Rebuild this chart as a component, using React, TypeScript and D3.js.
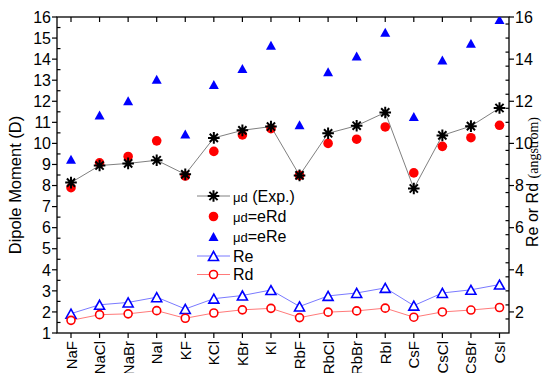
import React from "react";
import * as d3 from "d3";

const categories = ["NaF", "NaCl", "NaBr", "NaI", "KF", "KCl", "KBr", "KI", "RbF", "RbCl", "RbBr", "RbI", "CsF", "CsCl", "CsBr", "CsI"];
const muExp = [8.14, 8.95, 9.05, 9.2, 8.53, 10.26, 10.62, 10.8, 8.48, 10.48, 10.84, 11.47, 7.86, 10.38, 10.82, 11.68];
const muERd = [7.9, 9.08, 9.38, 10.12, 8.45, 9.62, 10.4, 10.7, 8.48, 10.0, 10.2, 10.78, 8.6, 9.86, 10.27, 10.86];
const muERe = [9.25, 11.35, 12.02, 13.05, 10.45, 12.8, 13.55, 14.66, 10.88, 13.4, 14.15, 15.28, 11.28, 13.96, 14.75, 15.88];
const ReVals = [1.92, 2.34, 2.45, 2.7, 2.14, 2.63, 2.78, 3.04, 2.26, 2.76, 2.9, 3.14, 2.3, 2.9, 3.05, 3.3];
const RdVals = [1.6, 1.87, 1.91, 2.06, 1.7, 1.95, 2.1, 2.17, 1.73, 1.99, 2.05, 2.18, 1.75, 2.0, 2.09, 2.21];

const leftMajor = d3.range(1, 17, 1);
const leftMinor = d3.range(1.5, 16, 1);
const rightMajor = d3.range(2, 17, 2);

const W = 544, H = 373;
const L = 57, R = 509, T = 17, B = 333;
const FONT = "Arial, 'Liberation Sans', sans-serif";

function starPath(cx: number, cy: number, r: number) {
  const d = r * Math.SQRT1_2;
  return `M${cx - r},${cy}L${cx + r},${cy}M${cx},${cy - r}L${cx},${cy + r}M${cx - d},${cy - d}L${cx + d},${cy + d}M${cx - d},${cy + d}L${cx + d},${cy - d}`;
}
function triPath(cx: number, cy: number, s: number) {
  const h = s * 0.9;
  return `M${cx},${cy - h / 2}L${cx + s / 2},${cy + h / 2}L${cx - s / 2},${cy + h / 2}Z`;
}

export default function App() {
  const x = d3.scalePoint<string>().domain(categories).range([71, 499.5]);
  const y = d3.scaleLinear().domain([1, 16]).range([B, T]);
  const yR = d3.scaleLinear().domain([1, 16]).range([B, T]);
  const rightMinor = d3.range(1, 16.01, 2 / 3).filter((v) => Math.abs(Math.round(v / 2) * 2 - v) > 0.01 && v > 1.01);

  const line = (vals: number[], sc: d3.ScaleLinear<number, number>) =>
    d3.line<number>().x((_, i) => x(categories[i])!).y((v) => sc(v))(vals) || "";

  const legendY = [196, 216.5, 236.5, 256, 274.5];
  const lx0 = 197, lx1 = 230, lmx = 213.5, ltx = 233;

  return (
    <svg width={W} height={H} style={{ position: "absolute", left: 0, top: 0 }} fontFamily={FONT}>
      <defs>
        <clipPath id="plot">
          <rect x={L} y={T} width={R - L} height={B - T} />
        </clipPath>
      </defs>
      <rect x={0} y={0} width={W} height={H} fill="#fff" />

      {/* frame */}
      <rect x={L} y={T} width={R - L} height={B - T} fill="none" stroke="#000" strokeWidth={1.3} />

      {/* left axis ticks */}
      {leftMajor.map((v) => (
        <g key={"lm" + v}>
          <line x1={L - 5} x2={L} y1={y(v)} y2={y(v)} stroke="#000" strokeWidth={1.2} />
          <text x={L - 6} y={y(v)} dy="0.36em" textAnchor="end" fontSize={16}>{v}</text>
        </g>
      ))}
      {leftMinor.map((v) => (
        <line key={"ln" + v} x1={L} x2={L + 3.5} y1={y(v)} y2={y(v)} stroke="#000" strokeWidth={1.2} />
      ))}

      {/* right axis ticks */}
      {rightMajor.map((v) => (
        <g key={"rm" + v}>
          <line x1={R} x2={R + 5} y1={yR(v)} y2={yR(v)} stroke="#000" strokeWidth={1.2} />
          <text x={R + 6} y={yR(v)} dy="0.36em" textAnchor="start" fontSize={16}>{v}</text>
        </g>
      ))}
      {rightMinor.map((v, i) => (
        <line key={"rn" + i} x1={R - 3.5} x2={R} y1={yR(v)} y2={yR(v)} stroke="#000" strokeWidth={1.2} />
      ))}

      {/* x ticks */}
      {categories.map((c) => (
        <g key={"x" + c}>
          <line x1={x(c)} x2={x(c)} y1={B} y2={B + 5} stroke="#000" strokeWidth={1.2} />
          <line x1={x(c)} x2={x(c)} y1={T} y2={T + 5} stroke="#000" strokeWidth={1.2} />
          <text
            transform={`translate(${x(c)! + 5.5},${B + 8}) rotate(-90)`}
            textAnchor="end"
            fontSize={15}
          >
            {c}
          </text>
        </g>
      ))}

      {/* axis titles */}
      <text transform={`translate(21,185) rotate(-90)`} textAnchor="middle" fontSize={16.5}>
        Dipole Moment (D)
      </text>
      <text transform={`translate(538,182) rotate(-90)`} textAnchor="middle" fontSize={16}>
        Re or Rd <tspan fontFamily="'Liberation Serif', 'Times New Roman', serif" fontSize={14}>(angstrom)</tspan>
      </text>

      <g clipPath="url(#plot)">
        {/* Re / Rd lines */}
        <path d={line(ReVals, yR)} fill="none" stroke="#7a7aff" strokeWidth={1} />
        <path d={line(RdVals, yR)} fill="none" stroke="#ff7a7a" strokeWidth={1} />
        {ReVals.map((v, i) => (
          <path key={"re" + i} d={triPath(x(categories[i])!, yR(v), 10)} fill="#fff" stroke="#0000ff" strokeWidth={1.6} />
        ))}
        {RdVals.map((v, i) => (
          <circle key={"rd" + i} cx={x(categories[i])!} cy={yR(v)} r={4} fill="#fff" stroke="#ff0000" strokeWidth={1.6} />
        ))}

        {/* eRe */}
        {muERe.map((v, i) => (
          <path key={"ere" + i} d={triPath(x(categories[i])!, y(v), 10)} fill="#0000ff" />
        ))}
        {/* exp line */}
        <path d={line(muExp, y)} fill="none" stroke="#808080" strokeWidth={1} />
        {/* eRd */}
        {muERd.map((v, i) => (
          <circle key={"erd" + i} cx={x(categories[i])!} cy={y(v)} r={4.8} fill="#ff0000" />
        ))}
        {/* exp stars */}
        {muExp.map((v, i) => (
          <path key={"exp" + i} d={starPath(x(categories[i])!, y(v), 5.8)} stroke="#000" strokeWidth={2} fill="none" />
        ))}
      </g>

      {/* legend */}
      <g>
        <line x1={lx0} x2={lx1} y1={legendY[0]} y2={legendY[0]} stroke="#808080" strokeWidth={1} />
        <path d={starPath(lmx, legendY[0], 5.8)} stroke="#000" strokeWidth={2} fill="none" />
        <text x={ltx} y={legendY[0]} dy="0.36em" fontSize={16}>
          <tspan fontSize={13}>μd</tspan> (Exp.)
        </text>

        <circle cx={lmx} cy={legendY[1]} r={4.8} fill="#ff0000" />
        <text x={ltx} y={legendY[1]} dy="0.36em" fontSize={16}>
          <tspan fontSize={13}>μd</tspan>=eRd
        </text>

        <path d={triPath(lmx, legendY[2], 10)} fill="#0000ff" />
        <text x={ltx} y={legendY[2]} dy="0.36em" fontSize={16}>
          <tspan fontSize={13}>μd</tspan>=eRe
        </text>

        <line x1={lx0} x2={lx1} y1={legendY[3]} y2={legendY[3]} stroke="#7a7aff" strokeWidth={1} />
        <path d={triPath(lmx, legendY[3], 10)} fill="#fff" stroke="#0000ff" strokeWidth={1.6} />
        <text x={ltx} y={legendY[3]} dy="0.36em" fontSize={16}>Re</text>

        <line x1={lx0} x2={lx1} y1={legendY[4]} y2={legendY[4]} stroke="#ff7a7a" strokeWidth={1} />
        <circle cx={lmx} cy={legendY[4]} r={4} fill="#fff" stroke="#ff0000" strokeWidth={1.6} />
        <text x={ltx} y={legendY[4]} dy="0.36em" fontSize={16}>Rd</text>
      </g>
    </svg>
  );
}
